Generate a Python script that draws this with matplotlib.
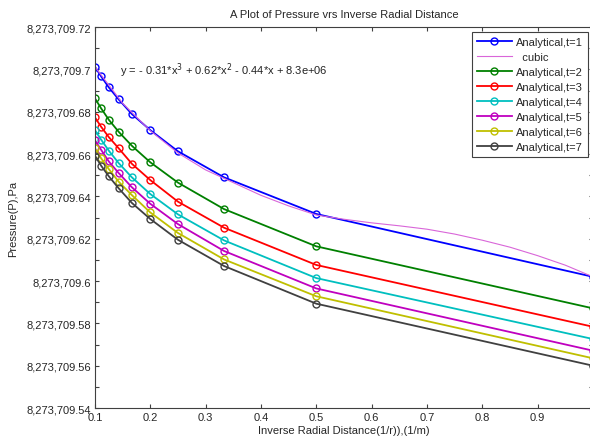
import matplotlib
matplotlib.use("Agg")
import matplotlib.pyplot as plt
from matplotlib.ticker import FuncFormatter

plt.rcParams['font.family'] = ['Liberation Sans', 'DejaVu Sans']
plt.rcParams['font.size'] = 8

# inverse radial distance 1/r (1/m)
inv_r = [0.1, 0.1111, 0.125, 0.1429, 0.1667, 0.2, 0.25, 0.3333, 0.5, 1.0]

# pressure (Pa) for each time step
p_t1 = [8273709.7012, 8273709.6967, 8273709.6915, 8273709.6858, 8273709.6789,
        8273709.6713, 8273709.6613, 8273709.6490, 8273709.6317, 8273709.6020]
p_t2 = [8273709.6863, 8273709.6816, 8273709.6762, 8273709.6705, 8273709.6639,
        8273709.6561, 8273709.6465, 8273709.6340, 8273709.6164, 8273709.5871]
p_t3 = [8273709.6773, 8273709.6729, 8273709.6680, 8273709.6627, 8273709.6554,
        8273709.6477, 8273709.6375, 8273709.6252, 8273709.6076, 8273709.5784]
p_t4 = [8273709.6713, 8273709.6668, 8273709.6616, 8273709.6557, 8273709.6490,
        8273709.6411, 8273709.6315, 8273709.6192, 8273709.6014, 8273709.5726]
p_t5 = [8273709.6665, 8273709.6620, 8273709.6565, 8273709.6510, 8273709.6443,
        8273709.6365, 8273709.6269, 8273709.6142, 8273709.5965, 8273709.5671]
p_t6 = [8273709.6628, 8273709.6580, 8273709.6529, 8273709.6469, 8273709.6406,
        8273709.6324, 8273709.6227, 8273709.6102, 8273709.5928, 8273709.5635]
p_t7 = [8273709.6592, 8273709.6545, 8273709.6495, 8273709.6438, 8273709.6369,
        8273709.6293, 8273709.6195, 8273709.6071, 8273709.5893, 8273709.5600]

# cubic fit curve for t=1
cubic_x = [0.1, 0.15, 0.2, 0.25, 0.3, 0.35, 0.4, 0.45, 0.5, 0.55,
           0.6, 0.65, 0.7, 0.75, 0.8, 0.85, 0.9, 0.95, 1.0]
cubic_p = [8273709.7012, 8273709.6840, 8273709.6710, 8273709.6605, 8273709.6525,
           8273709.6465, 8273709.6405, 8273709.6355, 8273709.6312, 8273709.6292,
           8273709.6275, 8273709.6261, 8273709.6245, 8273709.6222, 8273709.6193,
           8273709.6160, 8273709.6120, 8273709.6075, 8273709.6020]

fit_text = "y = - 0.31*x$^3$ + 0.62*x$^2$ - 0.44*x + 8.3e+06"

x_ticks = [0.1, 0.2, 0.3, 0.4, 0.5, 0.6, 0.7, 0.8, 0.9]
y_ticks = [8273709.54, 8273709.56, 8273709.58, 8273709.60, 8273709.62,
           8273709.64, 8273709.66, 8273709.68, 8273709.70, 8273709.72]
y_minor = [8273709.55, 8273709.57, 8273709.59, 8273709.61, 8273709.63,
           8273709.65, 8273709.67, 8273709.69, 8273709.71]

series = [
    ("Analytical,t=1", p_t1, (0, 0, 1)),
    ("Analytical,t=2", p_t2, (0, 0.5, 0)),
    ("Analytical,t=3", p_t3, (1, 0, 0)),
    ("Analytical,t=4", p_t4, (0, 0.75, 0.75)),
    ("Analytical,t=5", p_t5, (0.75, 0, 0.75)),
    ("Analytical,t=6", p_t6, (0.75, 0.75, 0)),
    ("Analytical,t=7", p_t7, (0.25, 0.25, 0.25)),
]

fig = plt.figure(figsize=(5.9, 4.39), dpi=100)
ax = fig.add_axes([0.161, 0.0683, 0.844, 0.8677])

handles = []
for i, (name, p, col) in enumerate(series):
    h, = ax.plot(inv_r, p, '-o', color=col, lw=1.3, ms=5, mew=1,
                 mfc='none', label=name)
    handles.append(h)
    if i == 0:
        hc, = ax.plot(cubic_x, cubic_p, '-', color='#d966d9', lw=0.8,
                      label='  cubic')
        handles.append(hc)

ax.text(0.145, 8273709.700, fit_text, va='center', ha='left', fontsize=8,
        color='#222222')

ax.set_xticks(x_ticks)
ax.set_yticks(y_ticks)
ax.set_yticks(y_minor, minor=True)
ax.set_xlim(0.1, 1.0)
ax.set_ylim(y_ticks[0], y_ticks[-1])


def ylab(v, pos):
    return "{:,.2f}".format(v).rstrip('0').rstrip('.')


def xlab(v, pos):
    return "{:g}".format(round(v, 2))


ax.yaxis.set_major_formatter(FuncFormatter(ylab))
ax.xaxis.set_major_formatter(FuncFormatter(xlab))
ax.tick_params(which='both', direction='in', top=True, right=True,
               length=3, width=0.8, color='#404040', labelcolor='#262626',
               labelsize=8, pad=3)
for s in ax.spines.values():
    s.set_color('#404040')
    s.set_linewidth(0.8)

ax.set_title("A Plot of Pressure vrs Inverse Radial Distance", fontsize=8,
             color='#262626', pad=7)
ax.set_xlabel("Inverse Radial Distance(1/r)),(1/m)", fontsize=8,
              color='#262626', labelpad=2)
ax.set_ylabel("Pressure(P),Pa", fontsize=8, color='#262626', labelpad=6)

leg = fig.legend(handles=handles, loc='upper right',
                 bbox_to_anchor=(588 / 590, 1 - 33 / 439), fontsize=8,
                 frameon=True, fancybox=False, framealpha=1,
                 edgecolor='#404040', labelspacing=0.45, handlelength=3.2,
                 handletextpad=0.35, borderpad=0.45, borderaxespad=0)
leg.get_frame().set_linewidth(0.8)
for t in leg.get_texts():
    t.set_color('#262626')

fig.savefig("out.png", dpi=100, facecolor='white')
